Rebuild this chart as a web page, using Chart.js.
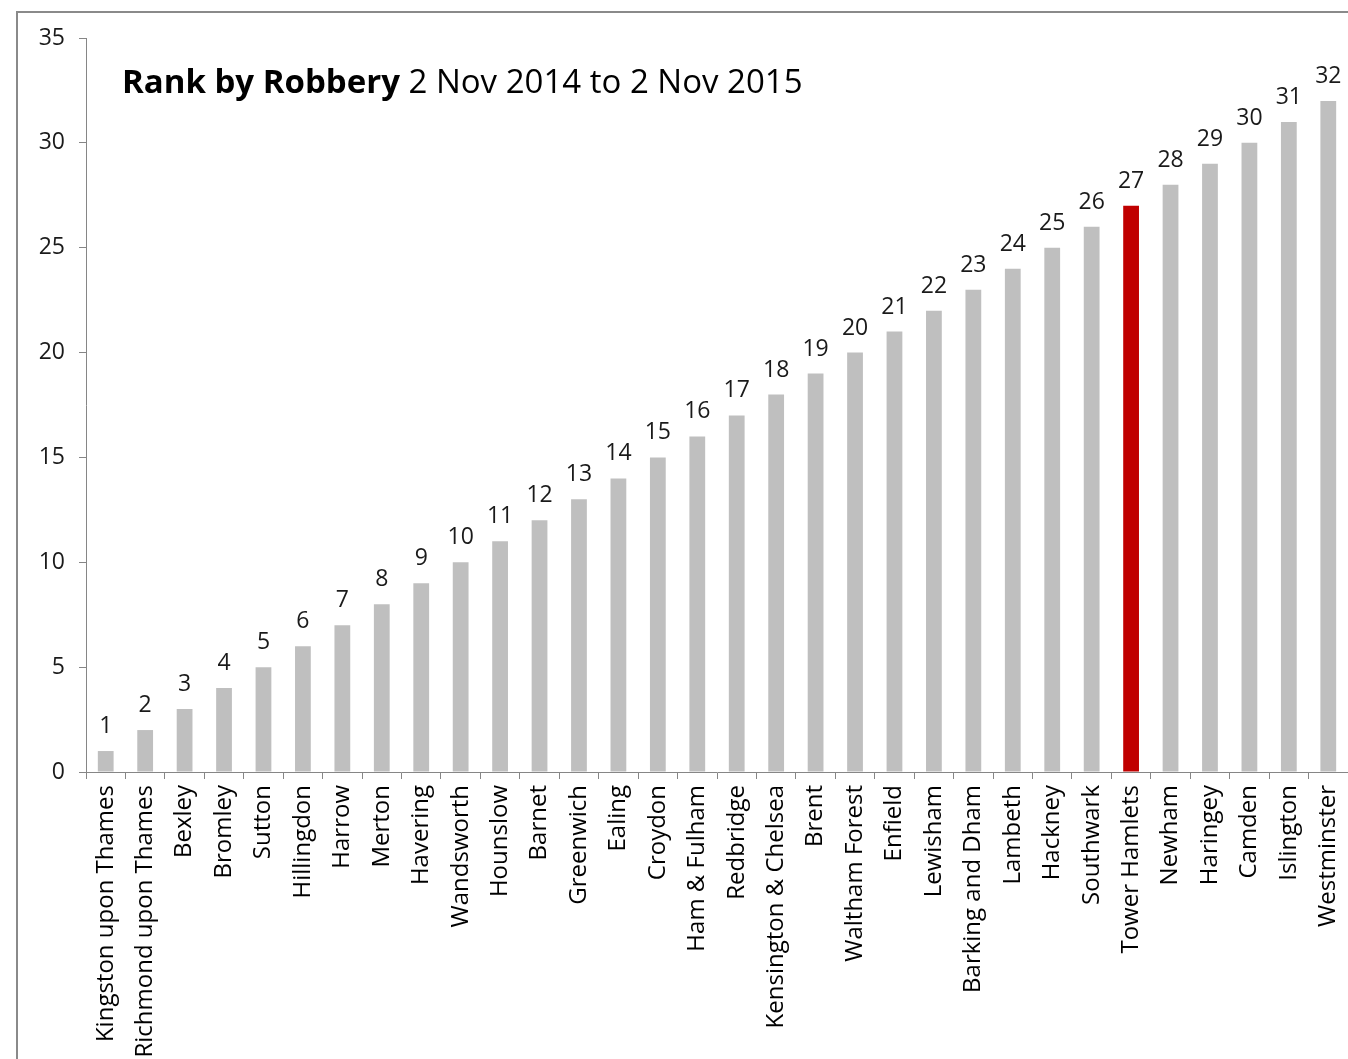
<!DOCTYPE html>
<html>
<head>
<meta charset="utf-8">
<script src="https://cdn.jsdelivr.net/npm/chart.js@4"></script>
<style>
  body { margin: 0; background: #fff; }
  #frame { position: absolute; left: 16px; top: 11px; width: 1400px; height: 1100px;
           border-left: 2px solid #8a8a8a; border-top: 2px solid #8a8a8a; }
  #wrap { position: absolute; left: 0; top: 0; width: 1348px; height: 1059px; }
</style>
</head>
<body>
<div id="frame"></div>
<div id="wrap"><canvas id="chart"></canvas></div>
<script>
const boroughs = ["Kingston upon Thames", "Richmond upon Thames", "Bexley", "Bromley", "Sutton",
    "Hillingdon", "Harrow", "Merton", "Havering", "Wandsworth", "Hounslow", "Barnet", "Greenwich",
    "Ealing", "Croydon", "Ham & Fulham", "Redbridge", "Kensington & Chelsea", "Brent", "Waltham Forest",
    "Enfield", "Lewisham", "Barking and Dham", "Lambeth", "Hackney", "Southwark", "Tower Hamlets",
    "Newham", "Haringey", "Camden", "Islington", "Westminster"];
const ranks = [1, 2, 3, 4, 5, 6, 7, 8, 9, 10, 11, 12, 13, 14, 15, 16, 17, 18, 19, 20,
    21, 22, 23, 24, 25, 26, 27, 28, 29, 30, 31, 32];
const highlight = "Tower Hamlets";
const titleBold = "Rank by Robbery";
const titleRest = " 2 Nov 2014 to 2 Nov 2015";

const FONT = "'Open Sans', sans-serif";
const AXIS = "#868686";

// numbers above each bar + the mixed bold/normal title
const overlay = {
    id: 'overlay',
    afterDatasetsDraw(chart) {
        const ctx = chart.ctx;
        const meta = chart.getDatasetMeta(0);
        ctx.save();
        ctx.fillStyle = '#1a1a1a';
        ctx.font = '23px ' + FONT;
        ctx.textAlign = 'center';
        ctx.textBaseline = 'alphabetic';
        meta.data.forEach((bar, i) => {
            ctx.fillText(ranks[i], bar.x, bar.y - 18);
        });
        ctx.textAlign = 'left';
        ctx.fillStyle = '#000';
        ctx.font = 'bold 33px ' + FONT;
        ctx.fillText(titleBold, 122, 93);
        const w = ctx.measureText(titleBold).width;
        ctx.font = '33px ' + FONT;
        ctx.fillText(titleRest, 122 + w, 93);
        ctx.restore();
    }
};

new Chart(document.getElementById('chart'), {
    type: 'bar',
    data: {
        labels: boroughs,
        datasets: [{
            data: ranks,
            backgroundColor: boroughs.map(b => b === highlight ? '#c00000' : '#bfbfbf'),
            barPercentage: 0.8,
            categoryPercentage: 0.5
        }]
    },
    options: {
        responsive: true,
        maintainAspectRatio: false,
        animation: false,
        layout: { padding: { top: 38, right: 0, left: 0, bottom: 0 } },
        plugins: { legend: { display: false }, tooltip: { enabled: false } },
        scales: {
            x: {
                grid: { drawOnChartArea: false, drawTicks: true, tickLength: 7, color: AXIS, offset: true },
                border: { color: AXIS, width: 1 },
                ticks: { color: '#000', font: { family: FONT, size: 24 }, minRotation: 90, maxRotation: 90,
                         autoSkip: false, padding: 6 },
                afterFit(s) { s.height = 1059 - 772; s.paddingRight = 0; s.paddingLeft = 0; }
            },
            y: {
                min: 0, max: 35,
                grid: { drawOnChartArea: false, drawTicks: true, tickLength: 7, color: AXIS },
                border: { color: AXIS, width: 1 },
                ticks: { stepSize: 5, color: '#1a1a1a', font: { family: FONT, size: 23 }, padding: 14 },
                afterFit(s) { s.width = 86; }
            }
        }
    },
    plugins: [overlay]
});
</script>
</body>
</html>
